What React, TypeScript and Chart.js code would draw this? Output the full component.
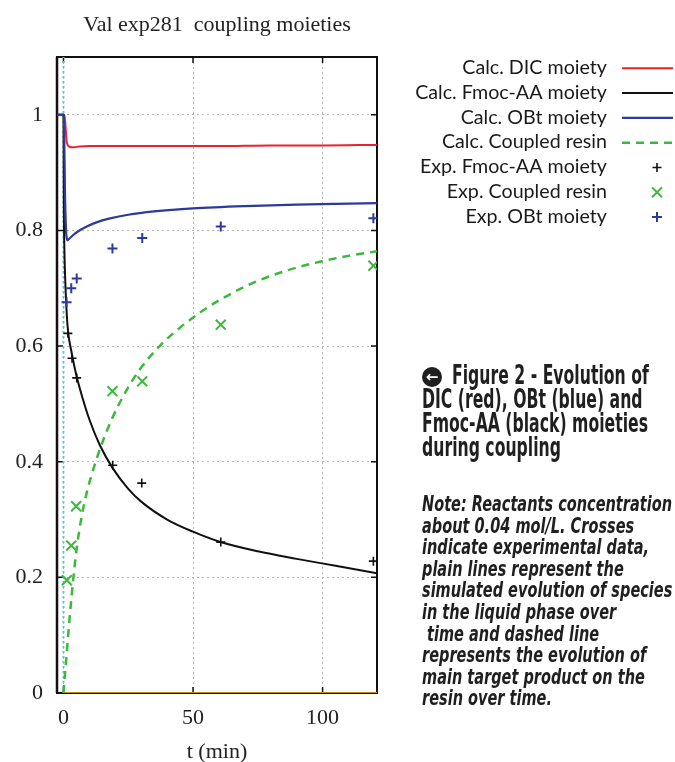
import React, { useEffect, useMemo, useRef } from 'react';
import { Chart, registerables } from 'chart.js';

Chart.register(...registerables);

// ---------- text ----------
const TITLE = 'Val exp281  coupling moieties';
const X_LABEL = 't (min)';
const LEGEND_REF = 'Calc. Fmoc-AA moiety';

// ---------- axes ----------
const X_MIN = -2.5;
const X_MAX = 121;
const Y_MIN = 0;
const Y_MAX = 1.1;
const xTickValues = [0, 50, 100];
const yTickValues = [0, 0.2, 0.4, 0.6, 0.8, 1];

// ---------- calculated curves ----------
const dicT = [-2.5, 0, 0.4, 0.8, 1.2, 1.6, 2.2, 3, 4, 6, 10, 20, 40, 60, 80, 100, 121];
const dicV = [1, 1, 0.998, 0.98, 0.955, 0.948, 0.945, 0.944, 0.944, 0.945, 0.946, 0.946, 0.946, 0.946, 0.947, 0.947, 0.948];

const fmocT = [-2.5, 0, 0.1, 0.3, 0.8, 1.3, 1.85, 3, 5, 7.5, 10, 14, 19, 25, 30, 40, 50, 60, 75, 90, 105, 121];
const fmocV = [1, 1, 0.86, 0.78, 0.7, 0.652, 0.622, 0.592, 0.549, 0.508, 0.473, 0.429, 0.389, 0.353, 0.331, 0.3, 0.279, 0.262, 0.245, 0.232, 0.22, 0.207];

const obtT = [-2.5, 0, 0.2, 0.6, 1.0, 1.3, 1.6, 2.5, 4, 6, 9, 13, 18, 25, 35, 50, 70, 90, 105, 121];
const obtV = [1, 1, 0.99, 0.86, 0.8, 0.786, 0.783, 0.787, 0.793, 0.7995, 0.807, 0.8144, 0.8209, 0.8272, 0.8329, 0.8382, 0.8422, 0.8447, 0.846, 0.8471];

const resinT = [0, 1.2, 2.5, 3.8, 5.1, 7, 9, 10.9, 12.8, 15.4, 19.2, 24.4, 29.5, 37.3, 45, 52.7, 60, 72, 85, 99, 110, 121];
const resinV = [0, 0.066, 0.136, 0.198, 0.25, 0.305, 0.347, 0.378, 0.405, 0.438, 0.479, 0.524, 0.56, 0.601, 0.632, 0.658, 0.679, 0.707, 0.729, 0.746, 0.756, 0.764];

// ---------- experimental points ----------
const expFmocT = [1.7, 3.3, 5.1, 19, 30.2, 60.7, 119.6];
const expFmocV = [0.622, 0.579, 0.545, 0.394, 0.363, 0.261, 0.228];

const expResinT = [1.3, 3.0, 4.9, 18.9, 30.4, 60.7, 119.6];
const expResinV = [0.195, 0.255, 0.323, 0.522, 0.539, 0.637, 0.739];

const expObtT = [1.2, 3.0, 5.1, 18.9, 30.4, 60.7, 119.6];
const expObtV = [0.676, 0.7, 0.717, 0.769, 0.787, 0.807, 0.821];

// ---------- reference lines ----------
const zeroTimeT = [0, 0];
const zeroTimeV = [0, 1.1];
const baseT = [0, 121];
const baseV = [0, 0];

// ---------- caption ----------
const figureLines = ['Figure 2 - Evolution of', 'DIC (red), OBt (blue) and', 'Fmoc-AA (black) moieties', 'during coupling'];
const noteLines = [
  'Note: Reactants concentration',
  'about 0.04 mol/L. Crosses',
  'indicate experimental data,',
  'plain lines represent the',
  'simulated evolution of species',
  'in the liquid phase over',
  ' time and dashed line',
  'represents the evolution of',
  'main target product on the',
  'resin over time.',
];

const zip = (t: number[], v: number[]) => t.map((x, i) => ({ x, y: v[i] }));

const RED = '#e8232b';
const BLACK = '#111111';
const BLUE = '#2b3a9c';
const GREEN = '#3cb83c';

const SERIF = '"Liberation Serif", "Times New Roman", serif';
const CAPTION_FONT = '"Liberation Sans Narrow", "DejaVu Sans Condensed", "Roboto Condensed", Roboto, sans-serif';

function drawMarker(ctx: CanvasRenderingContext2D, style: string, x: number, y: number, r: number) {
  ctx.beginPath();
  if (style === 'crossRot') {
    const d = r * Math.SQRT1_2;
    ctx.moveTo(x - d, y - d);
    ctx.lineTo(x + d, y + d);
    ctx.moveTo(x - d, y + d);
    ctx.lineTo(x + d, y - d);
  } else {
    ctx.moveTo(x - r, y);
    ctx.lineTo(x + r, y);
    ctx.moveTo(x, y - r);
    ctx.lineTo(x, y + r);
  }
  ctx.stroke();
}

const framePlugin = {
  id: 'gnuFrame',
  beforeDatasetsDraw(chart: any) {
    const { ctx, chartArea: a, scales } = chart;
    const x = scales.x;
    const y = scales.y;
    ctx.save();
    ctx.strokeStyle = BLACK;
    ctx.lineWidth = 1.5;
    const L = 6;
    ctx.beginPath();
    y.ticks.forEach((t: any) => {
      const py = y.getPixelForValue(t.value);
      ctx.moveTo(a.left, py);
      ctx.lineTo(a.left + L, py);
      ctx.moveTo(a.right, py);
      ctx.lineTo(a.right - L, py);
    });
    x.ticks.forEach((t: any) => {
      const px = x.getPixelForValue(t.value);
      ctx.moveTo(px, a.bottom);
      ctx.lineTo(px, a.bottom - L);
      ctx.moveTo(px, a.top);
      ctx.lineTo(px, a.top + L);
    });
    ctx.stroke();
    ctx.lineWidth = 2;
    ctx.strokeRect(a.left, a.top, a.right - a.left, a.bottom - a.top);
    ctx.lineWidth = 2.5;
    ctx.beginPath();
    ctx.moveTo(a.left, a.top);
    ctx.lineTo(a.left, a.bottom);
    ctx.stroke();
    ctx.restore();
  },
};

const LEG_TEXT_X = 607;
const LEG_BASE_Y = 74;
const LEG_MID_Y = 68.3;
const LEG_DY = 24.8;
const LEG_LINE_X0 = 622;
const LEG_LINE_X1 = 673;
const LEG_MARK_X = 657;
const LEG_REF_W = 192;

const legendPlugin = {
  id: 'sideLegend',
  afterDraw(chart: any) {
    const ctx: CanvasRenderingContext2D = chart.ctx;
    const items = chart.data.datasets.filter((d: any) => d.label);
    ctx.save();
    ctx.font = '18px Lato, "Open Sans", sans-serif';
    const w = ctx.measureText(LEGEND_REF).width;
    const size = (18 * LEG_REF_W) / w;
    ctx.font = `${size.toFixed(2)}px Lato, "Open Sans", sans-serif`;
    ctx.textAlign = 'right';
    ctx.textBaseline = 'alphabetic';
    items.forEach((d: any, i: number) => {
      ctx.fillStyle = '#1a1a1a';
      ctx.fillText(d.label, LEG_TEXT_X, LEG_BASE_Y + i * LEG_DY);
      const cy = LEG_MID_Y + i * LEG_DY;
      ctx.strokeStyle = d.borderColor;
      if (d.showLine) {
        ctx.lineWidth = d.borderWidth;
        ctx.setLineDash(d.borderDash || []);
        ctx.beginPath();
        ctx.moveTo(LEG_LINE_X0, cy);
        ctx.lineTo(LEG_LINE_X1, cy);
        ctx.stroke();
        ctx.setLineDash([]);
      } else {
        ctx.lineWidth = d.pointBorderWidth;
        drawMarker(ctx, d.pointStyle, LEG_MARK_X, cy, d.pointRadius);
      }
    });
    ctx.restore();
  },
};

function fitScale(lines: string[], refIndex: number, targetWidth: number, font: string) {
  const c = document.createElement('canvas').getContext('2d');
  if (!c) return 1;
  c.font = font;
  const w = c.measureText(lines[refIndex]).width;
  return w > 0 ? targetWidth / w : 1;
}

export default function App() {
  const canvasRef = useRef<HTMLCanvasElement | null>(null);

  const figFont = `bold 26px ${CAPTION_FONT}`;
  const noteFont = `italic bold 22px ${CAPTION_FONT}`;
  const figScale = useMemo(() => fitScale(figureLines, 2, 226, figFont), []);
  const noteScale = useMemo(() => fitScale(noteLines, 0, 250, noteFont), []);

  useEffect(() => {
    if (!canvasRef.current) return;
    const lineDs = (label: string, t: number[], v: number[], color: string, extra: any = {}) => ({
      label,
      data: zip(t, v),
      showLine: true,
      borderColor: color,
      backgroundColor: color,
      borderWidth: 2,
      pointRadius: 0,
      pointHoverRadius: 0,
      cubicInterpolationMode: 'monotone',
      ...extra,
    });
    const pointDs = (label: string, t: number[], v: number[], color: string, style: string, r: number, extra: any = {}) => ({
      label,
      data: zip(t, v),
      showLine: false,
      borderColor: color,
      backgroundColor: color,
      pointStyle: style,
      pointRadius: r,
      pointBorderWidth: 2,
      pointBorderColor: color,
      pointHoverRadius: r,
      ...extra,
    });

    const chart = new Chart(canvasRef.current, {
      type: 'scatter',
      data: {
        datasets: [
          lineDs('Calc. DIC moiety', dicT, dicV, RED, { order: 4 }),
          lineDs('Calc. Fmoc-AA moiety', fmocT, fmocV, BLACK, { order: 3 }),
          lineDs('Calc. OBt moiety', obtT, obtV, BLUE, { order: 2, borderWidth: 2.2 }),
          lineDs('Calc. Coupled resin', resinT, resinV, GREEN, { order: 5, borderWidth: 2.5, borderDash: [8, 6] }),
          pointDs('Exp. Fmoc-AA moiety', expFmocT, expFmocV, BLACK, 'cross', 4.5, { order: 0, pointBorderWidth: 1.6 }),
          pointDs('Exp. Coupled resin', expResinT, expResinV, GREEN, 'crossRot', 7, { order: 0 }),
          pointDs('Exp. OBt moiety', expObtT, expObtV, BLUE, 'cross', 5, { order: 0 }),
          lineDs('', zeroTimeT, zeroTimeV, '#66c8c0', { order: 7, borderDash: [2, 3], cubicInterpolationMode: 'default' }),
          lineDs('', baseT, baseV, '#c98a12', { order: 6, cubicInterpolationMode: 'default' }),
        ],
      },
      options: {
        responsive: false,
        animation: false,
        devicePixelRatio: 1,
        layout: { padding: { left: 1.5, right: 298, top: 0, bottom: -1 } },
        plugins: {
          legend: { display: false },
          tooltip: { enabled: false },
          title: {
            display: true,
            text: TITLE,
            fullSize: false,
            color: '#222',
            font: { family: SERIF, size: 22, weight: 'normal', lineHeight: 1.2 },
            padding: { top: 11.8, bottom: 18.8 },
          },
        },
        scales: {
          x: {
            type: 'linear',
            min: X_MIN,
            max: X_MAX,
            afterBuildTicks: (axis: any) => {
              axis.ticks = xTickValues.map((value) => ({ value }));
            },
            ticks: {
              color: '#222',
              font: { family: SERIF, size: 22, lineHeight: 1 },
              padding: 14,
              maxRotation: 0,
              callback: (v: any) => String(v),
            },
            grid: {
              color: '#b5b5b5',
              lineWidth: 1,
              drawTicks: false,
            },
            border: { display: false, dash: [2, 3] },
            title: {
              display: true,
              text: X_LABEL,
              color: '#222',
              font: { family: SERIF, size: 22, lineHeight: 1 },
              padding: { top: -2, bottom: 0 },
            },
          },
          y: {
            type: 'linear',
            min: Y_MIN,
            max: Y_MAX,
            afterBuildTicks: (axis: any) => {
              axis.ticks = yTickValues.map((value) => ({ value }));
            },
            ticks: {
              color: '#222',
              font: { family: SERIF, size: 22 },
              padding: 14,
              callback: (v: any) => String(v),
            },
            grid: {
              color: '#b5b5b5',
              lineWidth: 1,
              drawTicks: false,
            },
            border: { display: false, dash: [2, 3] },
          },
        },
      },
      plugins: [framePlugin, legendPlugin],
    } as any);

    return () => chart.destroy();
  }, []);

  return (
    <div style={{ position: 'absolute', left: 0, top: 0, width: 675, height: 762, background: '#fff', overflow: 'hidden' }}>
      <canvas ref={canvasRef} width={675} height={762} style={{ width: 675, height: 762, display: 'block' }} />
      <div
        style={{
          position: 'absolute',
          left: 422,
          top: 367,
          width: 20,
          height: 20,
          borderRadius: '50%',
          background: '#1f1f1f',
          color: '#fff',
          fontFamily: 'DejaVu Sans, sans-serif',
          fontWeight: 'bold',
          fontSize: 15,
          lineHeight: '20px',
          textAlign: 'center',
        }}
      >
        ←
      </div>
      <div style={{ position: 'absolute', left: 422, top: 363, font: figFont, lineHeight: '24px', color: '#1f1f1f' }}>
        {figureLines.map((l, i) => (
          <div
            key={i}
            style={{
              whiteSpace: 'pre',
              transform: `scaleX(${figScale})`,
              transformOrigin: 'left top',
              marginLeft: i === 0 ? 30 : 0,
            }}
          >
            {l}
          </div>
        ))}
      </div>
      <div style={{ position: 'absolute', left: 422, top: 493, font: noteFont, lineHeight: '21.6px', color: '#1f1f1f' }}>
        {noteLines.map((l, i) => (
          <div key={i} style={{ whiteSpace: 'pre', transform: `scaleX(${noteScale})`, transformOrigin: 'left top' }}>
            {l}
          </div>
        ))}
      </div>
    </div>
  );
}
